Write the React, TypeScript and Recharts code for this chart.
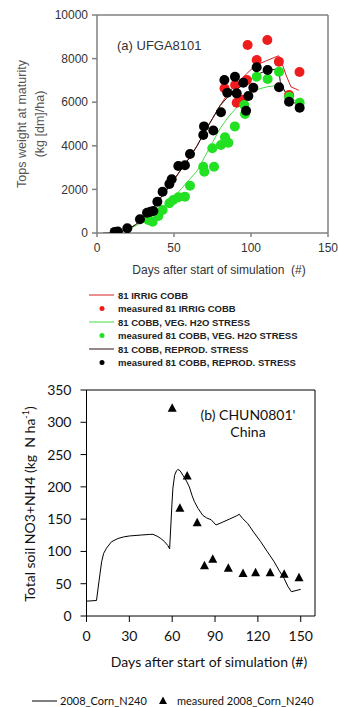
import React from 'react';
import { ComposedChart, Line, Scatter, XAxis, YAxis, ReferenceLine, Label } from 'recharts';

type P = [number, number];

// ---------- Chart (a) UFGA8101 ----------
const topXTicks = [0, 50, 100, 150];
const topYTicks = [0, 2000, 4000, 6000, 8000, 10000];

const irrigSim: P[] = [
  [4, 0], [10, 20], [15, 60], [20, 170], [25, 380], [30, 700], [35, 1050], [40, 1500], [45, 1950],
  [50, 2450], [55, 2950], [60, 3450], [65, 4000], [70, 4650], [75, 5250], [80, 5850], [85, 6400],
  [90, 6800], [95, 7150], [100, 7500], [105, 7750], [110, 7900], [115, 8050], [118, 8130],
  [120, 7800], [123, 7200], [126, 6700], [131, 6550],
];
const vegSim: P[] = [
  [4, 0], [10, 20], [15, 60], [20, 160], [25, 330], [30, 520], [35, 750], [40, 1000], [45, 1300],
  [50, 1650], [55, 2050], [60, 2450], [65, 2850], [70, 3500], [75, 4150], [80, 4800], [85, 5300],
  [90, 5700], [95, 6100], [100, 6450], [105, 6600], [110, 6700], [115, 6750], [118, 6800],
  [120, 6650], [125, 6250], [131, 5950],
];
const reprodSim: P[] = [
  [4, 0], [10, 20], [15, 60], [20, 170], [25, 380], [30, 700], [35, 1050], [40, 1500], [45, 1950],
  [50, 2450], [55, 2950], [60, 3450], [65, 4000], [70, 4650], [75, 5250], [80, 5850], [85, 6250],
  [90, 6550], [95, 6800], [100, 7050], [105, 7300], [110, 7450], [115, 7500], [118, 7550],
  [119, 6950], [122, 6500], [126, 6100], [131, 5800],
];

const irrigObs: P[] = [
  [82.8, 6636], [89.7, 6789], [90.7, 5977], [94.5, 6115], [97.3, 7018], [97.8, 8624], [103.7, 7936],
  [110.6, 8853], [118.1, 7860], [124.7, 6330], [131.5, 7385],
];
const vegObs: P[] = [
  [33.3, 596], [36.1, 520], [39.8, 780], [42.6, 1055], [47, 1361], [49.5, 1514], [52.8, 1636],
  [57.1, 1667], [60.4, 2171], [69, 3042], [69.7, 2812], [76, 3042], [74.9, 3885], [80.5, 4037],
  [83.1, 4388], [85.3, 4142], [89.5, 4890], [95.6, 5870], [96.1, 5459], [103.7, 7170], [110.8, 7064],
  [118.2, 7400], [124.7, 6253], [131.6, 5977],
];
const reprodObs: P[] = [
  [11.5, 50], [13.5, 70], [19.7, 216], [27.9, 628], [32.5, 931], [34.8, 980], [36.6, 1009],
  [39.2, 1436], [42.6, 1896], [47, 2248], [48.5, 2463], [52.8, 3073], [57.1, 3105], [60.4, 3624],
  [69, 4495], [69.5, 4890], [75.5, 4700], [80.5, 5536], [82.7, 7018], [84.6, 6436], [89.6, 7170],
  [90.7, 6406], [95, 6896], [96.8, 5611], [98.3, 6284], [101.5, 6666], [103.7, 7600], [110.8, 7477],
  [118.2, 6682], [124.7, 6024], [131.6, 5748],
];

const topSeries = [
  { name: '81 IRRIG COBB', kind: 'line', color: '#d42020' },
  { name: 'measured 81 IRRIG COBB', kind: 'dot', color: '#ee1c1c' },
  { name: '81 COBB, VEG. H2O STRESS', kind: 'line', color: '#44dd44' },
  { name: 'measured 81 COBB, VEG. H2O STRESS', kind: 'dot', color: '#22e022' },
  { name: '81 COBB, REPROD. STRESS', kind: 'line', color: '#2a1010' },
  { name: 'measured 81 COBB, REPROD. STRESS', kind: 'dot', color: '#000000' },
];

// ---------- Chart (b) CHUN0801' ----------
const botXTicks = [0, 30, 60, 90, 120, 150];
const botYTicks = [0, 50, 100, 150, 200, 250, 300, 350];

const nSim: P[] = [
  [0, 23], [7, 24], [8.7, 53], [10.6, 84], [12, 97], [14, 105], [17.5, 115], [22, 120], [26, 122.5],
  [30.3, 124], [38.4, 125.4], [44, 126.3], [46.6, 126.5], [50, 123], [52, 120], [54.7, 115],
  [57, 109], [58.2, 104], [59.8, 172], [60.5, 198], [61.7, 218], [63, 225], [64, 227], [65.5, 225],
  [67.5, 218], [70, 209], [72, 200], [74, 186], [75.6, 177], [78, 167], [81.4, 156], [84, 152],
  [87.3, 149], [90.7, 141], [95, 145], [100, 150], [105, 155], [107, 157.5], [109.3, 151],
  [112.8, 143.5], [117, 130], [122, 115], [126.5, 100], [131.4, 84], [135, 70], [138.4, 58],
  [141, 46], [143.5, 37.6], [150, 41.3],
];
const nObs: P[] = [
  [60, 321.6], [65.4, 166.8], [70.5, 216.8], [77.5, 144.5], [82.6, 78], [88.4, 87.8], [99.3, 73.8],
  [109.6, 66], [118.4, 67], [128.6, 67], [138.4, 64.5], [148.8, 59.3],
];

const toXY = (a: P[]) => a.map(([x, y]) => ({ x, y }));

const ARIAL = 'Liberation Sans, Arial, sans-serif';
const CAL = 'Lato, Carlito, Calibri, sans-serif';

const Dot = (color: string) => (props: any) => (
  <circle cx={props.cx} cy={props.cy} r={5} fill={color} stroke="none" />
);
const Tri = (props: any) => (
  <polygon
    points={`${props.cx},${props.cy - 5} ${props.cx - 4.5},${props.cy + 3.5} ${props.cx + 4.5},${props.cy + 3.5}`}
    fill="#000"
  />
);

function TopChart() {
  const axisC = '#808080';
  const tickStyle = { fill: '#333', fontSize: 12, fontFamily: ARIAL };
  return (
    <ComposedChart
      width={338}
      height={285}
      margin={{ top: 15, right: 10, bottom: 0, left: 0 }}
      style={{ position: 'absolute', left: 0, top: 0 }}
    >
      <XAxis
        type="number" dataKey="x" domain={[0, 150]} ticks={topXTicks} height={52}
        stroke={axisC} strokeWidth={1.5} tickSize={4} tickMargin={6} tick={tickStyle} allowDataOverflow
      >
        <Label
          content={() => (
            <g fontFamily={ARIAL} fontWeight={400}>
              <text x={117} y={50} fontSize={13} fill="#333">(a) UFGA8101</text>
              <text x={219} y={274} fontSize={12} fill="#333" textAnchor="middle" xmlSpace="preserve">Days after start of simulation  (#)</text>
            </g>
          )}
        />
      </XAxis>
      <YAxis
        type="number" dataKey="y" domain={[0, 10000]} ticks={topYTicks} width={97}
        stroke={axisC} strokeWidth={1.5} tickSize={5} tick={tickStyle} tickMargin={4} allowDataOverflow
      >
        <Label
          content={() => (
            <g fontFamily={ARIAL} fontWeight={400}>
              <text transform="translate(26,124) rotate(-90)" fontSize={12.5} fill="#555" textAnchor="middle">Tops weight at maturity</text>
              <text transform="translate(44,124) rotate(-90)" fontSize={12.5} fill="#555" textAnchor="middle">(kg [dm]/ha)</text>
            </g>
          )}
        />
      </YAxis>
      <ReferenceLine y={10000} stroke={axisC} strokeWidth={1.5} />
      <ReferenceLine x={150} stroke={axisC} strokeWidth={1.5} />
      <Line data={toXY(vegSim)} dataKey="y" stroke={topSeries[2].color} strokeWidth={1} dot={false} isAnimationActive={false} type="linear" />
      <Line data={toXY(irrigSim)} dataKey="y" stroke={topSeries[0].color} strokeWidth={1} dot={false} isAnimationActive={false} type="linear" />
      <Line data={toXY(reprodSim)} dataKey="y" stroke={topSeries[4].color} strokeWidth={1} dot={false} isAnimationActive={false} type="linear" />
      <Scatter data={toXY(irrigObs)} dataKey="y" shape={Dot(topSeries[1].color)} isAnimationActive={false} />
      <Scatter data={toXY(vegObs)} dataKey="y" shape={Dot(topSeries[3].color)} isAnimationActive={false} />
      <Scatter data={toXY(reprodObs)} dataKey="y" shape={Dot(topSeries[5].color)} isAnimationActive={false} />
    </ComposedChart>
  );
}

function TopLegend() {
  return (
    <svg width={338} height={85} style={{ position: 'absolute', left: 0, top: 286 }}>
      {topSeries.map((s, i) => {
        const y = 9 + i * 13.5;
        return (
          <g key={s.name}>
            {s.kind === 'line' ? (
              <line x1={89} x2={114} y1={y} y2={y} stroke={s.color} strokeWidth={1} />
            ) : (
              <circle cx={102} cy={y} r={2.5} fill={s.color} />
            )}
            <text x={118} y={y + 3.5} fontSize={9.5} fontWeight="bold" fontFamily={ARIAL} fill="#222">{s.name}</text>
          </g>
        );
      })}
    </svg>
  );
}

function BottomChart() {
  const tickStyle = { fill: '#111', fontSize: 14, fontFamily: CAL };
  return (
    <ComposedChart
      width={338}
      height={332}
      margin={{ top: 15, right: 23, bottom: 0, left: 0 }}
      style={{ position: 'absolute', left: 0, top: 375 }}
    >
      <XAxis
        type="number" dataKey="x" domain={[0, 160]} ticks={botXTicks} height={91}
        stroke="#000" tickSize={6} tick={tickStyle} tickMargin={9} allowDataOverflow
      >
        <Label
          content={() => (
            <g fontFamily={CAL} fontWeight={400} fill="#111">
              <text x={248} y={45} fontSize={14} textAnchor="middle">(b) CHUN0801'</text>
              <text x={248} y={62} fontSize={14} textAnchor="middle">China</text>
              <text x={209} y={292} fontSize={14} textAnchor="middle">Days after start of simulation (#)</text>
            </g>
          )}
        />
      </XAxis>
      <YAxis
        type="number" dataKey="y" domain={[0, 350]} ticks={botYTicks} width={86.5}
        stroke="#000" tickSize={6} tick={tickStyle} tickMargin={9} allowDataOverflow
      >
        <Label
          content={() => (
            <text transform="translate(35,129) rotate(-90)" fontFamily={CAL} fontWeight={400} fill="#111" fontSize={14} textAnchor="middle" xmlSpace="preserve">
              Total soil NO3+NH4 (kg  N ha<tspan fontSize={9} dy={-6}>-1</tspan><tspan dy={6}>)</tspan>
            </text>
          )}
        />
      </YAxis>
      <ReferenceLine y={350} stroke="#000" />
      <ReferenceLine x={160} stroke="#000" />
      <Line data={toXY(nSim)} dataKey="y" stroke="#000" strokeWidth={1} dot={false} isAnimationActive={false} type="linear" />
      <Scatter data={toXY(nObs)} dataKey="y" shape={Tri} isAnimationActive={false} />
    </ComposedChart>
  );
}

function BottomLegend() {
  return (
    <svg width={338} height={20} style={{ position: 'absolute', left: 0, top: 691 }}>
      <line x1={32} x2={57} y1={10} y2={10} stroke="#000" strokeWidth={1} />
      <text x={60} y={14} fontSize={11} fontFamily={CAL} fill="#111">2008_Corn_N240</text>
      <polygon points="163,5.5 159,13 167,13" fill="#000" />
      <text x={177} y={14} fontSize={11} fontFamily={CAL} fill="#111">measured 2008_Corn_N240</text>
    </svg>
  );
}

export default function App() {
  return (
    <div style={{ position: 'absolute', left: 0, top: 0, width: 338, height: 707, background: '#fff' }}>
      <TopChart />
      <TopLegend />
      <BottomChart />
      <BottomLegend />
    </div>
  );
}
